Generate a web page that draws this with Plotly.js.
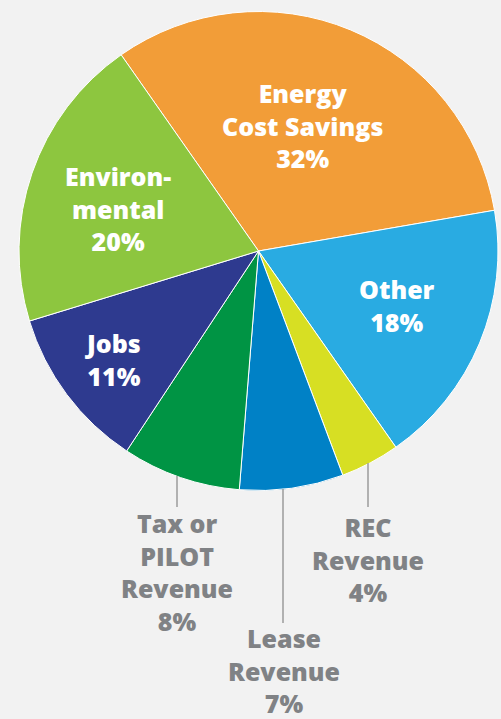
<!DOCTYPE html>
<html><head><meta charset="utf-8">
<script src="https://cdn.plot.ly/plotly-3.0.1.min.js"></script>
<style>html,body{margin:0;padding:0;background:#F2F2F2;}#chart{width:501px;height:719px;}</style>
</head><body><div id="chart"></div>
<script>
// ---- data ----
const categories = ['Energy<br>Cost Savings', 'Other', 'REC<br>Revenue', 'Lease<br>Revenue', 'Tax or<br>PILOT<br>Revenue', 'Jobs', 'Environ-<br>mental'];
const shares = [32, 18, 4, 7, 8, 11, 20];

// ---- style / placement (pixels: label block centre x, middle-baseline y) ----
const sliceColors = ['#F29D38', '#29ABE2', '#D7DF23', '#0081C6', '#009444', '#2E3A8F', '#8DC63F'];
const labelX = [302, 397, 368, 284, 177, 113, 118];
const labelMid = [135.3, 315.7, 569.3, 680, 582, 368.7, 218.3];
const labelInside = [true, true, false, false, false, true, true];
const leaderX = [null, null, 368, 283, 177, null, null];
const leaderY0 = [null, null, 463, 489, 476, null, null];
const leaderY1 = [null, null, 507, 623, 507, null, null];

const W = 501, H = 719;
const FS = 25, BASE_OFF = 9.7;
const px = x => x / W;
const py = y => 1 - y / H;

const annotations = [];
const shapes = [];
categories.forEach((cat, i) => {
  annotations.push({
    xref: 'paper', yref: 'paper',
    x: px(labelX[i]), y: py(labelMid[i] - BASE_OFF),
    xanchor: 'center', yanchor: 'middle', align: 'center',
    text: cat + '<br>' + shares[i] + '%', showarrow: false,
    font: {family: 'Open Sans, sans-serif', size: FS, weight: 800,
           color: labelInside[i] ? '#FFFFFF' : '#808285'}
  });
  if (leaderX[i] !== null) {
    shapes.push({type: 'line', xref: 'paper', yref: 'paper',
      x0: px(leaderX[i]), x1: px(leaderX[i]), y0: py(leaderY0[i]), y1: py(leaderY1[i]),
      line: {color: '#9B9B9B', width: 1.5}});
  }
});

const trace = {
  type: 'pie', labels: categories, values: shares,
  sort: false, direction: 'clockwise', rotation: -35,
  marker: {colors: sliceColors, line: {color: '#FFFFFF', width: 1}},
  textinfo: 'none', hoverinfo: 'none', showlegend: false,
  domain: {x: [19 / W, 498 / W], y: [1 - 490.5 / H, 1 - 11.5 / H]}
};

Plotly.newPlot('chart', [trace], {
  width: W, height: H, margin: {l: 0, r: 0, t: 0, b: 0},
  paper_bgcolor: '#F2F2F2', plot_bgcolor: '#F2F2F2',
  annotations: annotations, shapes: shapes
}, {displayModeBar: false, staticPlot: true});
</script></body></html>
